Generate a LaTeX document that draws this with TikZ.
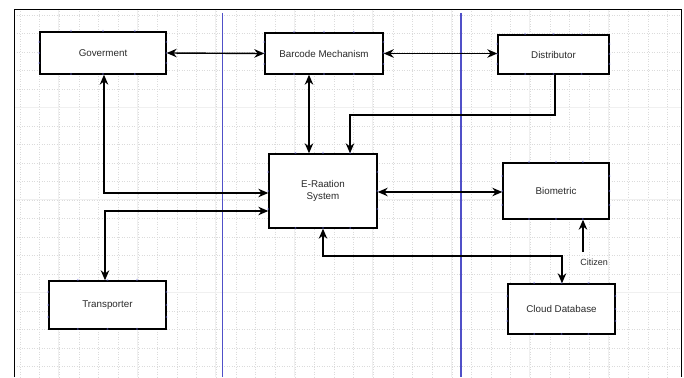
\documentclass[tikz,border=0pt]{standalone}
\usepackage{fontspec}
\setmainfont{Liberation Sans}
\usetikzlibrary{arrows.meta,calc}
\definecolor{txt}{HTML}{2A2A2A}
\definecolor{lane}{HTML}{5050C8}
\definecolor{mkcol}{HTML}{6A6AE0}
\tikzset{
  blk/.style={draw=black,line width=1.4pt,fill=white,rectangle,inner sep=2pt,
    font=\fontsize{9.8}{12}\selectfont,text=txt,align=center},
  conn/.style={line width=1.4pt,draw=black,{Stealth[length=10pt,width=8.5pt]}-{Stealth[length=10pt,width=8.5pt]}},
  oneway/.style={line width=1.4pt,draw=black,-{Stealth[length=10pt,width=8.5pt]}},
  minorgrid/.style={draw=gray!28,line width=0.5pt,dotted},
  majorgrid/.style={draw=gray!12,line width=0.6pt},
  cmark/.style={text=mkcol,font=\fontsize{4}{4}\selectfont,inner sep=0pt},
  lanestyle/.style={draw=lane,line width=1.6pt},
}
\begin{document}
\begin{tikzpicture}[x=1pt,y=-1pt]
\useasboundingbox (0,0) rectangle (684,377);
\fill[white] (0,0) rectangle (684,377);
% grid
\begin{scope}
\clip (14,9) rectangle (681,377);
\foreach \i in {0,...,36} {\draw[minorgrid] ({20+\i*19.625},9) -- ({20+\i*19.625},377);}
\foreach \j in {0,...,20} {\draw[minorgrid] (14,{15+\j*18.5}) -- (681,{15+\j*18.5});}
\foreach \i in {0,...,8} {\draw[majorgrid] ({58.5+\i*78.5},9) -- ({58.5+\i*78.5},377);}
\foreach \j in {0,...,3} {\draw[majorgrid] (14,{107+\j*92.5}) -- (681,{107+\j*92.5});}
\end{scope}
% frame
\draw[black,line width=0.8pt] (14,377) -- (14,9) -- (681,9) -- (681,377);
% lanes
\draw[lanestyle,line width=1pt] (222.5,13) -- (222.5,377);
\draw[lanestyle] (461,13) -- (461,377);
% nodes
\node[blk,minimum width=126pt,minimum height=42pt] (gov) at (103,53) {Goverment};
\node[blk,minimum width=118pt,minimum height=41pt] (bar) at (324,53.5) {Barcode Mechanism};
\node[blk,minimum width=111pt,minimum height=39pt] (dist) at (553.5,54.5) {Distributor};
\node[blk,minimum width=108pt,minimum height=74pt] (er) at (323,191) {E-Raation\\System};
\node[blk,minimum width=106pt,minimum height=56pt] (bio) at (556,191) {Biometric};
\node[blk,minimum width=117pt,minimum height=48pt] (trans) at (107.5,305) {Transporter};
\node[blk,minimum width=107pt,minimum height=50pt] (cloud) at (561.5,309) {Cloud Database};
% connection markers
\foreach \n in {gov,bar,dist,er,bio,trans,cloud} {
  \foreach \t in {0.25,0.5,0.75} {
    \node[cmark] at ($(\n.north west)!\t!(\n.north east)$) {x};
    \node[cmark] at ($(\n.south west)!\t!(\n.south east)$) {x};
    \node[cmark] at ($(\n.north west)!\t!(\n.south west)$) {x};
    \node[cmark] at ($(\n.north east)!\t!(\n.south east)$) {x};
  }
}
% connectors
\draw[conn] (gov.east) -- (bar.west);
\draw[conn] (bar.east) -- (bar.east -| dist.west);
\draw[conn] (bar.south -| 309,0) -- (er.north -| 309,0);
\coordinate (d1) at (555,115);
\coordinate (d2) at (350,115);
\draw[oneway] (dist.south -| d1) -- (d1) -- (d2) -- (er.north -| d2);
\coordinate (g1) at (104,193);
\draw[conn] (gov.south -| g1) -- (g1) -- (er.west |- g1);
\coordinate (t1) at (105,211);
\draw[conn] (er.west |- t1) -- (t1) -- (trans.north -| t1);
\draw[conn] (er.east |- 0,192) -- (bio.west |- 0,192);
\coordinate (c0) at (583,252);
\draw[oneway] (c0) -- (bio.south -| c0);
\node[font=\fontsize{9}{11}\selectfont,text=txt,inner sep=1pt] (cit) at (594,262) {Citizen};
\coordinate (e1) at (323,256);
\coordinate (e2) at (562,256);
\draw[conn] (er.south -| e1) -- (e1) -- (e2) -- (cloud.north -| e2);
\end{tikzpicture}
\end{document}
